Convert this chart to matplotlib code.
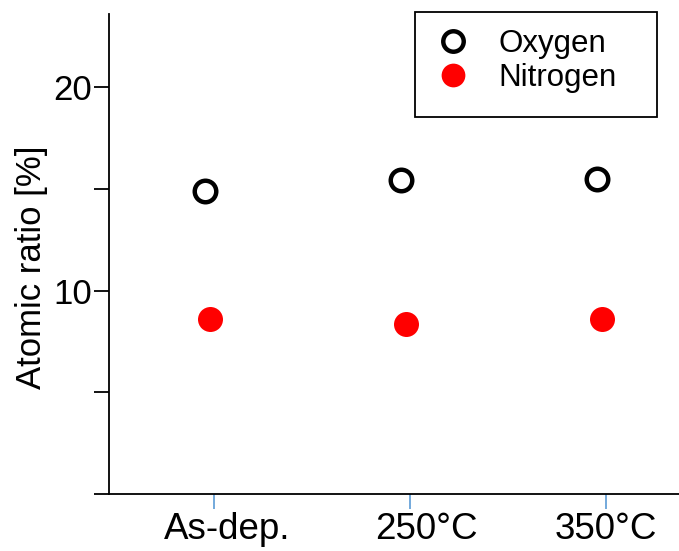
import numpy as np
import matplotlib.pyplot as plt
import matplotlib.transforms as mtransforms
from matplotlib.patches import Rectangle

plt.rcParams['font.family'] = ['Liberation Sans', 'DejaVu Sans']

categories = ["As-dep.", "250°C", "350°C"]
oxygen = [14.9, 15.45, 15.5]
nitrogen = [8.6, 8.35, 8.6]

x = np.arange(len(categories))

fig = plt.figure(figsize=(6.79, 5.51), dpi=100)
ax = fig.add_axes([109 / 679, 57 / 551, 1 - 109 / 679, (494 - 14) / 551])

ax.plot(x - 0.045, oxygen, linestyle="none", marker="o", markersize=15.5,
        markerfacecolor="white", markeredgecolor="black", markeredgewidth=3.2,
        label="Oxygen")
ax.plot(x - 0.02, nitrogen, linestyle="none", marker="o", markersize=18,
        markerfacecolor="red", markeredgecolor="red", markeredgewidth=0,
        label="Nitrogen")

ax.set_xlim(-0.536, 2.372)
ax.set_ylim(0, 23.6)

ax.spines["top"].set_visible(False)
ax.spines["right"].set_visible(False)
for s in ["left", "bottom"]:
    ax.spines[s].set_linewidth(1.3)

ax.set_yticks([0, 5, 10, 15, 20])
ax.set_yticklabels(["", "", "10", "", "20"])
ax.tick_params(axis="y", length=11, width=1.3, labelsize=25, pad=1)

ax.set_xticks(x)
ax.set_xticklabels(categories)
ax.tick_params(axis="x", length=11, width=1.2, color="#5b9bd5",
               labelsize=26.5, pad=2)

# labels in the original sit a bit right of their ticks
shifts = [9.5, 11.5, 0]
for lab, dx in zip(ax.get_xticklabels(), shifts):
    lab.set_transform(lab.get_transform() +
                      mtransforms.ScaledTranslation(dx / 72, 0, fig.dpi_scale_trans))

ax.set_ylabel("Atomic ratio [%]", fontsize=25, labelpad=4)
ax.yaxis.label.set_y(0.473)

leg = ax.legend(loc="upper left", bbox_to_anchor=(415 / 679, 1 - 15 / 551),
                bbox_transform=fig.transFigure, borderaxespad=0,
                fontsize=22.5, frameon=False, handletextpad=0.7,
                labelspacing=0.12, borderpad=0.46, handlelength=1.5,
                markerscale=0.95)
fig.add_artist(Rectangle((415 / 679, 1 - 117 / 551), 242 / 679, 105 / 551,
                         transform=fig.transFigure, fill=False,
                         edgecolor="black", linewidth=1.3))

fig.savefig("out.png", dpi=100)
